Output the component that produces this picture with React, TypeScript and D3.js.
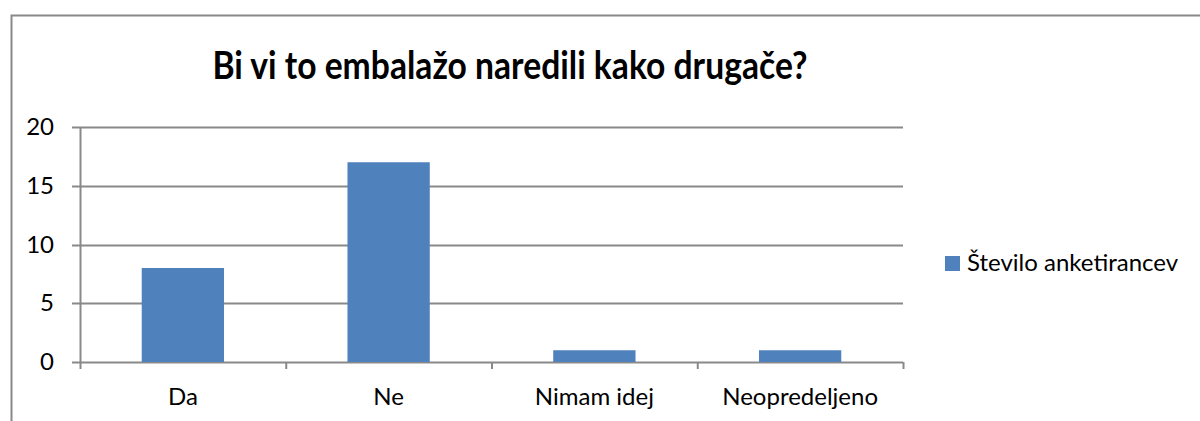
import React, { useRef, useEffect } from 'react';
import * as d3 from 'd3';

const categories = ['Da', 'Ne', 'Nimam idej', 'Neopredeljeno'];
const values = [8, 17, 1, 1];
const yTicks = [0, 5, 10, 15, 20];
const seriesName = 'Število anketirancev';
const title = 'Bi vi to embalažo naredili kako drugače?';

const App = () => {
  const ref = useRef<SVGSVGElement>(null);

  useEffect(() => {
    const svg = d3.select(ref.current);
    svg.selectAll('*').remove();

    const W = 1200;
    const H = 421;
    const left = 80, right = 903, top = 127, bottom = 362;
    const font = 'Lato, sans-serif';

    // chart frame
    svg.append('rect')
      .attr('x', 11.5).attr('y', 15.5)
      .attr('width', W).attr('height', H)
      .attr('fill', '#fff').attr('stroke', '#898989').attr('stroke-width', 2);

    // title
    svg.append('text')
      .attr('x', 510).attr('y', 79)
      .attr('text-anchor', 'middle')
      .attr('font-family', font).attr('font-weight', 'bold').attr('font-size', 39)
      .attr('textLength', 595).attr('lengthAdjust', 'spacingAndGlyphs')
      .attr('fill', '#000')
      .text(title);

    const x = d3.scaleBand().domain(categories).range([left, right]);
    const y = d3.scaleLinear().domain([0, 20]).range([bottom, top]);

    // gridlines
    svg.append('g').selectAll('line')
      .data(yTicks)
      .enter().append('line')
      .attr('x1', left - 8).attr('x2', right)
      .attr('y1', d => Math.round(y(d)) + 0.5).attr('y2', d => Math.round(y(d)) + 0.5)
      .attr('stroke', '#898989').attr('stroke-width', 2);

    // y axis line
    svg.append('line')
      .attr('x1', left + 0.5).attr('x2', left + 0.5)
      .attr('y1', top).attr('y2', bottom + 7)
      .attr('stroke', '#898989').attr('stroke-width', 2);

    // x tick marks at category boundaries
    const bounds = categories.map(c => x(c)).concat([right]);
    svg.append('g').selectAll('line')
      .data(bounds.slice(1))
      .enter().append('line')
      .attr('x1', d => d + 0.5).attr('x2', d => d + 0.5)
      .attr('y1', bottom).attr('y2', bottom + 7)
      .attr('stroke', '#898989').attr('stroke-width', 2);

    // y labels
    svg.append('g').selectAll('text')
      .data(yTicks)
      .enter().append('text')
      .attr('x', 54).attr('y', d => y(d) + 8)
      .attr('text-anchor', 'end')
      .attr('font-family', font).attr('font-size', 24).attr('fill', '#000')
      .text(d => d);

    // bars
    const bw = x.bandwidth() * 0.4;
    svg.append('g').selectAll('rect')
      .data(values)
      .enter().append('rect')
      .attr('x', (d, i) => x(categories[i]) + (x.bandwidth() - bw) / 2)
      .attr('y', d => y(d))
      .attr('width', bw)
      .attr('height', d => y(0) - y(d))
      .attr('fill', '#4F81BD');

    // x labels
    svg.append('g').selectAll('text')
      .data(categories)
      .enter().append('text')
      .attr('x', d => x(d) + x.bandwidth() / 2).attr('y', 405)
      .attr('text-anchor', 'middle')
      .attr('font-family', font).attr('font-size', 24).attr('fill', '#000')
      .text(d => d);

    // legend
    svg.append('rect')
      .attr('x', 945).attr('y', 256).attr('width', 15).attr('height', 15)
      .attr('fill', '#4F81BD');
    svg.append('text')
      .attr('x', 967).attr('y', 271)
      .attr('font-family', font).attr('font-size', 24).attr('fill', '#000')
      .text(seriesName);
  }, []);

  return (
    <svg ref={ref} width={1200} height={421}
      style={{ position: 'absolute', left: 0, top: 0, display: 'block' }} />
  );
};

export default App;
